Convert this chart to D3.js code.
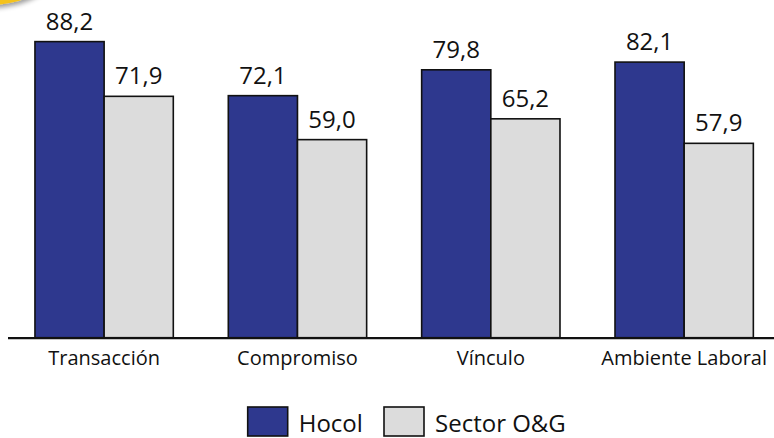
<!DOCTYPE html>
<html>
<head>
<meta charset="utf-8">
<script src="https://cdn.jsdelivr.net/npm/d3@7"></script>
<style>
  html, body { margin: 0; padding: 0; background: #ffffff; }
  svg { display: block; }
  text { font-family: "Open Sans", sans-serif; fill: #111; }
</style>
</head>
<body>
<svg id="chart" width="774" height="438"></svg>
<script>
const categories = ["Transacción", "Compromiso", "Vínculo", "Ambiente Laboral"];
const seriesNames = ["Hocol", "Sector O&G"];
const hocolValues = [88.2, 72.1, 79.8, 82.1];
const sectorValues = [71.9, 59.0, 65.2, 57.9];
const seriesColors = ["#2E388E", "#DCDCDC"];

const svg = d3.select("#chart");

// decorative yellow disc at top-left
const defs = svg.append("defs");
const f = defs.append("filter").attr("id", "sh").attr("x", "-50%").attr("y", "-50%").attr("width", "200%").attr("height", "200%");
f.append("feGaussianBlur").attr("in", "SourceAlpha").attr("stdDeviation", 2.5).attr("result", "b");
f.append("feOffset").attr("in", "b").attr("dx", 1).attr("dy", 3).attr("result", "o");
f.append("feComponentTransfer").attr("in", "o").attr("result", "o2")
  .append("feFuncA").attr("type", "linear").attr("slope", 0.4);
const m = f.append("feMerge");
m.append("feMergeNode").attr("in", "o2");
m.append("feMergeNode").attr("in", "SourceGraphic");
svg.append("circle").attr("cx", -10).attr("cy", -95).attr("r", 100)
  .attr("fill", "#F4C21F").attr("filter", "url(#sh)");

const x0 = d3.scaleBand().domain(categories).range([7.5, 780.8])
  .paddingInner(0.2845).paddingOuter(0.142);
const x1 = d3.scaleBand().domain(seriesNames).range([0, x0.bandwidth()]).padding(0);
const y = d3.scaleLinear().domain([0, 100]).range([337.7, 2]);

const rows = categories.map((c, i) => ({
  cat: c,
  vals: [
    { s: seriesNames[0], v: hocolValues[i], c: seriesColors[0] },
    { s: seriesNames[1], v: sectorValues[i], c: seriesColors[1] }
  ]
}));

const g = svg.append("g");
const groups = g.selectAll("g.grp").data(rows).join("g")
  .attr("class", "grp")
  .attr("transform", d => `translate(${x0(d.cat)},0)`);

groups.selectAll("rect").data(d => d.vals).join("rect")
  .attr("x", d => x1(d.s))
  .attr("y", d => y(d.v))
  .attr("width", x1.bandwidth())
  .attr("height", d => y(0) - y(d.v))
  .attr("fill", d => d.c)
  .attr("stroke", "#111")
  .attr("stroke-width", 1.6);

groups.selectAll("text.val").data(d => d.vals).join("text")
  .attr("class", "val")
  .attr("x", d => x1(d.s) + x1.bandwidth() / 2)
  .attr("y", d => y(d.v) - 12)
  .attr("text-anchor", "middle")
  .attr("font-size", 24)
  .text(d => d.v.toFixed(1).replace(".", ","));

// x axis
const axis = svg.append("g")
  .attr("transform", `translate(0,${y(0)})`)
  .call(d3.axisBottom(x0).tickSize(0).tickPadding(13));
axis.attr("font-size", 20).attr("font-family", "Open Sans, sans-serif");
axis.select(".domain").attr("stroke", "#111").attr("stroke-width", 2.2);
axis.selectAll(".tick text")
  .attr("font-size", 20)
  .attr("fill", "#111");

// legend
const legendX = [247.7, 384];
const leg = svg.append("g");
const items = leg.selectAll("g").data(seriesNames).join("g")
  .attr("transform", (d, i) => `translate(${legendX[i]},407)`);
items.append("rect")
  .attr("width", 40).attr("height", 29)
  .attr("fill", (d, i) => seriesColors[i])
  .attr("stroke", "#111").attr("stroke-width", 1.6);
items.append("text")
  .attr("x", 51).attr("y", 25)
  .attr("font-size", 24)
  .text(d => d);
</script>
</body>
</html>
